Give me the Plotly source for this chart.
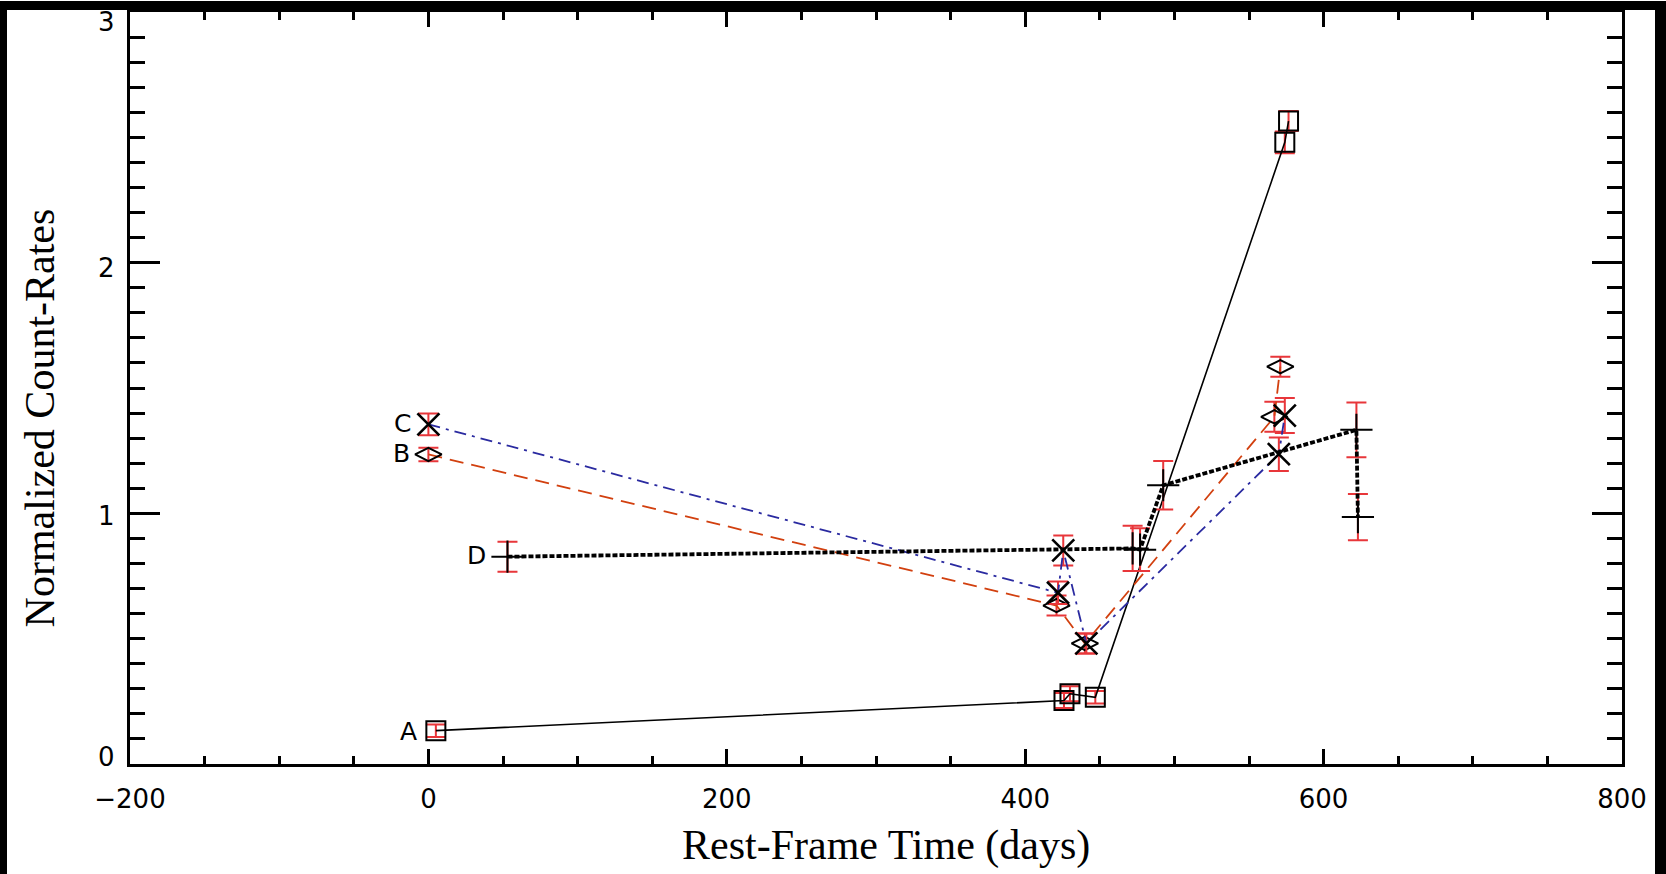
import plotly.graph_objects as go

# ---------------- data ----------------
a_x = [5, 426, 430, 447, 574, 576.5]
a_y = [0.133, 0.253, 0.28, 0.266, 2.48, 2.565]
a_err = [0.025, 0.03, 0.03, 0.025, 0.043, 0.04]

b_x = [0, 421, 440, 567, 571]
b_y = [1.235, 0.632, 0.481, 1.385, 1.585]
b_err = [0.027, 0.04, 0.04, 0.06, 0.04]

c_x = [0, 422, 425.5, 441, 570, 574]
c_y = [1.355, 0.683, 0.852, 0.481, 1.236, 1.39]
c_err = [0.043, 0.045, 0.06, 0.04, 0.067, 0.07]

d_x = [53, 472, 477, 492.5, 622, 623]
d_y = [0.827, 0.86, 0.855, 1.112, 1.333, 0.985]
d_err = [0.06, 0.09, 0.085, 0.097, 0.109, 0.092]

series_names = ["A", "B", "C", "D"]
label_x = [-6, -11, -10, 40]
label_y = [0.131, 1.24, 1.36, 0.83]

y_tick_vals = [0, 1, 2, 3]
y_tick_text = ["0", "1", "2", "3"]
y_tick_shift = [7, -3, -5, -10]

x_title = "Rest-Frame Time (days)"
y_title = "Normalized Count-Rates"

# ---------------- style ----------------
W, H = 1666, 874
ML, MR, MT, MB = 130, 44, 9, 110
PW, PH = W - ML - MR, H - MT - MB
RED = "#e8363a"
ORANGE = "#d2400f"
NAVY = "#2a2aa0"
TICKFONT = dict(family="DejaVu Sans", size=26, color="black")


def px_to_paper_x(px):
    return (px - ML) / PW


def px_to_paper_y(py):
    return (H - MB - py) / PH


def err(arr):
    return dict(type="data", array=arr, color=RED, thickness=2, width=10, visible=True)


fig = go.Figure()

fig.add_trace(go.Scatter(
    x=a_x, y=a_y, mode="lines+markers", name="A",
    line=dict(color="black", width=1.6),
    marker=dict(symbol="square-open", size=19, color="black", line=dict(width=2, color="black")),
    error_y=err(a_err)))

fig.add_trace(go.Scatter(
    x=b_x, y=b_y, mode="lines+markers", name="B",
    line=dict(color=ORANGE, width=1.8, dash="14px,8px"),
    marker=dict(symbol="diamond-wide-open", size=19, color="black", line=dict(width=2, color="black")),
    error_y=err(b_err)))

fig.add_trace(go.Scatter(
    x=c_x, y=c_y, mode="lines+markers", name="C",
    line=dict(color=NAVY, width=1.8, dash="12px,6px,3px,6px"),
    marker=dict(symbol="x-thin-open", size=22, color="black", line=dict(width=2.6, color="black")),
    error_y=err(c_err)))

fig.add_trace(go.Scatter(
    x=d_x, y=d_y, mode="lines+markers", name="D",
    line=dict(color="black", width=3.8, dash="5px,2px"),
    marker=dict(symbol="cross-thin-open", size=23, color="black", line=dict(width=2, color="black")),
    error_y=err(d_err)))

annotations = []
for t, lx, ly in zip(series_names, label_x, label_y):
    annotations.append(dict(x=lx, y=ly, xref="x", yref="y", text=t, showarrow=False,
                            xanchor="right", yanchor="middle",
                            font=dict(family="DejaVu Sans", size=25, color="black")))
for v, t, s in zip(y_tick_vals, y_tick_text, y_tick_shift):
    annotations.append(dict(x=px_to_paper_x(106), y=v, xref="paper", yref="y", text=t, showarrow=False,
                            xanchor="center", yanchor="middle", yshift=s, font=TICKFONT))
annotations.append(dict(x=px_to_paper_x(886), y=px_to_paper_y(846), xref="paper", yref="paper",
                        text=x_title, showarrow=False, xanchor="center", yanchor="middle",
                        font=dict(family="Liberation Serif", size=42, color="black")))
annotations.append(dict(x=px_to_paper_x(40), y=px_to_paper_y(417), xref="paper", yref="paper",
                        text=y_title, showarrow=False, textangle=-90, xanchor="center", yanchor="middle",
                        font=dict(family="Liberation Serif", size=42, color="black")))

shapes = [
    # black border strips of the original image
    dict(type="rect", xref="paper", yref="paper", layer="above", line=dict(width=0), fillcolor="black",
         x0=px_to_paper_x(-2), x1=px_to_paper_x(7), y0=px_to_paper_y(H + 2), y1=px_to_paper_y(-2)),
    dict(type="rect", xref="paper", yref="paper", layer="above", line=dict(width=0), fillcolor="black",
         x0=px_to_paper_x(-2), x1=px_to_paper_x(W + 2), y0=px_to_paper_y(7), y1=px_to_paper_y(-2)),
    dict(type="rect", xref="paper", yref="paper", layer="above", line=dict(width=0), fillcolor="black",
         x0=px_to_paper_x(1655), x1=px_to_paper_x(W + 2), y0=px_to_paper_y(H + 2), y1=px_to_paper_y(-2)),
]

fig.update_layout(
    width=W, height=H,
    margin=dict(l=ML, r=MR, t=MT, b=MB, pad=0),
    paper_bgcolor="white", plot_bgcolor="white",
    showlegend=False,
    annotations=annotations,
    shapes=shapes,
    xaxis=dict(range=[-200, 800], tickmode="linear", tick0=-200, dtick=200,
               ticks="inside", ticklen=15, tickwidth=2.5, tickcolor="black",
               showline=True, linewidth=3, linecolor="black", mirror="allticks",
               showgrid=False, zeroline=False, tickfont=TICKFONT, ticklabelstandoff=10,
               minor=dict(dtick=50, ticks="inside", ticklen=8, tickwidth=2.5, tickcolor="black", showgrid=False)),
    yaxis=dict(range=[0, 3], tickmode="array", tickvals=y_tick_vals, ticktext=y_tick_text, showticklabels=False,
               ticks="inside", ticklen=30, tickwidth=2.5, tickcolor="black",
               showline=True, linewidth=3, linecolor="black", mirror="allticks",
               showgrid=False, zeroline=False,
               minor=dict(dtick=0.1, ticks="inside", ticklen=15, tickwidth=2.5, tickcolor="black", showgrid=False)),
)

fig.write_html("out.html", config={"displayModeBar": False},
               post_script="document.body.style.margin='0px';document.body.style.overflow='hidden';")
